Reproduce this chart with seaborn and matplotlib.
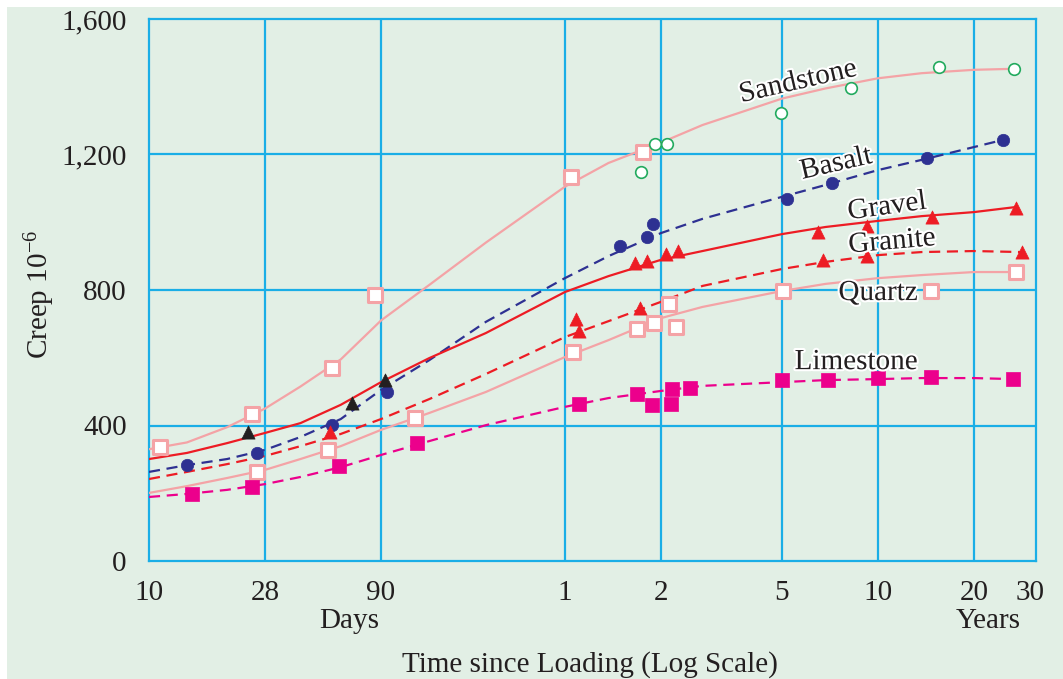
import numpy as np
import matplotlib
matplotlib.use("Agg")
import matplotlib.pyplot as plt
import matplotlib.patheffects as pe
from matplotlib.patches import Rectangle
import seaborn as sns

# ---------------- data: creep strain (x 10^-6) against time since loading (days) ----------------
CURVE_DAYS = [10, 14, 20, 28, 40, 60, 90, 130, 200, 365, 500, 730, 1000, 1826, 2500, 3652, 5000, 7305]

sandstone_curve_days = CURVE_DAYS + [9750]
sandstone_curve = [330, 350, 395, 450, 515, 595, 710, 815, 940, 1105, 1175, 1235, 1287, 1365, 1395, 1425, 1440, 1450, 1453]
basalt_curve_days = CURVE_DAYS + [9000]
basalt_curve = [263, 283, 301, 328, 366, 419, 505, 593, 706, 835, 900, 968, 1010, 1075, 1110, 1154, 1184, 1222, 1243]
gravel_curve_days = CURVE_DAYS + [9890]
gravel_curve = [301, 319, 348, 378, 407, 461, 528, 599, 673, 794, 841, 889, 915, 965, 986, 1004, 1018, 1030, 1045]
granite_curve_days = CURVE_DAYS + [10330]
granite_curve = [242, 263, 286, 310, 339, 375, 419, 478, 552, 661, 708, 765, 812, 862, 883, 903, 912, 915, 912]
quartz_curve_days = CURVE_DAYS + [9890]
quartz_curve = [201, 221, 245, 269, 301, 339, 387, 437, 499, 602, 652, 717, 750, 797, 818, 835, 844, 853, 853]
limestone_curve_days = CURVE_DAYS + [9680]
limestone_curve = [189, 198, 210, 227, 248, 277, 313, 354, 401, 455, 481, 502, 517, 528, 534, 537, 540, 540, 537]

# measured points
sandstone_sq_days = [11, 25, 55, 85, 381, 641]
sandstone_sq = [337, 434, 570, 785, 1134, 1207]
sandstone_circ_days = [631, 699, 764, 1811, 3004, 5673, 9752]
sandstone_circ = [1148, 1231, 1231, 1322, 1396, 1458, 1452]
basalt_days = [14, 26, 55, 94, 545, 660, 690, 1900, 2620, 5200, 9000]
basalt_pts = [283, 319, 401, 499, 930, 956, 995, 1069, 1116, 1190, 1243]
gravel_early_days = [24, 67, 93]
gravel_early = [381, 467, 535]
gravel_days = [605, 660, 758, 830, 2369, 3373, 5390, 9893]
gravel_pts = [880, 886, 906, 915, 971, 989, 1016, 1042]
granite_days = [54, 395, 404, 628, 2455, 3373, 10330]
granite_pts = [381, 714, 679, 747, 889, 900, 912]
quartz_days = [26, 53, 117, 387, 614, 694, 776, 818, 1839, 5354, 9893]
quartz_pts = [263, 328, 422, 617, 685, 703, 759, 691, 797, 797, 853]
limestone_days = [14.6, 25, 59, 118, 404, 614, 684, 793, 788, 909, 1826, 2545, 3652, 5354, 9680]
limestone_pts = [198, 218, 280, 348, 463, 493, 460, 508, 463, 511, 534, 534, 540, 543, 537]

# axis labelling
x_tick_days = [10, 28, 90, 365.25, 730.5, 1826.25, 3652.5, 7305, 10957.5]
x_tick_labels = ["10", "28", "90", "1", "2", "5", "10", "20", "30"]
x_grid_days = [28, 90, 365.25, 730.5, 1826.25, 3652.5, 7305]
y_ticks = [0, 400, 800, 1200, 1600]
y_tick_labels = ["0", "400", "800", "1,200", "1,600"]
y_grid = [400, 800, 1200]

# ---------------- styling ----------------
sns.set_style("white")
plt.rcParams["font.family"] = ["Liberation Serif", "DejaVu Serif"]
plt.rcParams["mathtext.fontset"] = "custom"
plt.rcParams["mathtext.rm"] = "Liberation Serif"
plt.rcParams["mathtext.it"] = "Liberation Serif:italic"

BG = "#e2efe5"
GRID = "#1aaee6"
PINK = "#f4a3a6"
NAVY = "#2e3192"
RED = "#ed1c24"
MAGENTA = "#ec008c"
GREEN = "#22aa5e"
INK = "#231f20"
DASH = (0, (5, 3))

# time axis: logarithmic within each stretch between the marked times
_ANCHOR_DAYS = np.log10([10, 28, 90, 365.25, 730.5, 1826.25, 3652.5, 7305])
_ANCHOR_POS = np.array([0, 116, 232, 416, 512, 633, 729, 825], float)
_s0 = (_ANCHOR_POS[1] - _ANCHOR_POS[0]) / (_ANCHOR_DAYS[1] - _ANCHOR_DAYS[0])
_s1 = (_ANCHOR_POS[-1] - _ANCHOR_POS[-2]) / (_ANCHOR_DAYS[-1] - _ANCHOR_DAYS[-2])


def _fwd(d):
    ld = np.log10(np.clip(np.asarray(d, float), 1e-6, None))
    out = np.interp(ld, _ANCHOR_DAYS, _ANCHOR_POS)
    out = np.where(ld < _ANCHOR_DAYS[0], _ANCHOR_POS[0] + (ld - _ANCHOR_DAYS[0]) * _s0, out)
    out = np.where(ld > _ANCHOR_DAYS[-1], _ANCHOR_POS[-1] + (ld - _ANCHOR_DAYS[-1]) * _s1, out)
    return out


def _inv(p):
    p = np.asarray(p, float)
    ld = np.interp(p, _ANCHOR_POS, _ANCHOR_DAYS)
    ld = np.where(p < _ANCHOR_POS[0], _ANCHOR_DAYS[0] + (p - _ANCHOR_POS[0]) / _s0, ld)
    ld = np.where(p > _ANCHOR_POS[-1], _ANCHOR_DAYS[-1] + (p - _ANCHOR_POS[-1]) / _s1, ld)
    return 10 ** ld


fig = plt.figure(figsize=(10.63, 6.79), dpi=100, facecolor="white")
fig.patches.append(Rectangle((7 / 1063, 0), 1, 1 - 7 / 679, transform=fig.transFigure,
                             facecolor=BG, edgecolor="none", zorder=-1))
ax = fig.add_axes([149 / 1063, 1 - 561 / 679, 887 / 1063, 542 / 679])
ax.set_facecolor("none")

# fitted curves
curves = [
    (sandstone_curve_days, sandstone_curve, PINK, "-"),
    (basalt_curve_days, basalt_curve, NAVY, DASH),
    (gravel_curve_days, gravel_curve, RED, "-"),
    (granite_curve_days, granite_curve, RED, DASH),
    (quartz_curve_days, quartz_curve, PINK, "-"),
    (limestone_curve_days, limestone_curve, MAGENTA, DASH),
]
for xd, yd, col, ls in curves:
    sns.lineplot(x=xd, y=yd, ax=ax, color=col, linewidth=1.6, linestyle=ls,
                 sort=False, estimator=None, zorder=3)

# measured points
open_sq = dict(marker="s", s=95, color="white", edgecolor=PINK, linewidth=2.2, zorder=5)
sns.scatterplot(x=sandstone_sq_days, y=sandstone_sq, ax=ax, **open_sq)
sns.scatterplot(x=quartz_days, y=quartz_pts, ax=ax, **open_sq)
sns.scatterplot(x=sandstone_circ_days, y=sandstone_circ, ax=ax, marker="o", s=70,
                color="white", edgecolor=GREEN, linewidth=1.2, zorder=5)
sns.scatterplot(x=basalt_days, y=basalt_pts, ax=ax, marker="o", s=80, color=NAVY,
                edgecolor=NAVY, linewidth=0.5, zorder=5)
sns.scatterplot(x=gravel_early_days, y=gravel_early, ax=ax, marker="^", s=90, color=INK,
                edgecolor=INK, linewidth=0.5, zorder=5)
sns.scatterplot(x=gravel_days, y=gravel_pts, ax=ax, marker="^", s=90, color=RED,
                edgecolor=RED, linewidth=0.5, zorder=5)
sns.scatterplot(x=granite_days, y=granite_pts, ax=ax, marker="^", s=90, color=RED,
                edgecolor=RED, linewidth=0.5, zorder=5)
sns.scatterplot(x=limestone_days, y=limestone_pts, ax=ax, marker="s", s=110, color=MAGENTA,
                edgecolor=MAGENTA, linewidth=0.5, zorder=5)

ax.set_xscale("function", functions=(_fwd, _inv))
ax.set_xlim(10, float(_inv(887)))
ax.set_ylim(0, 1600)

ax.grid(False)
for d in x_grid_days:
    ax.axvline(d, color=GRID, linewidth=1.6, zorder=1)
for v in y_grid:
    ax.axhline(v, color=GRID, linewidth=1.6, zorder=1)
for sp in ax.spines.values():
    sp.set_color(GRID)
    sp.set_linewidth(1.6)
    sp.set_visible(True)

ax.set_xticks(x_tick_days)
ax.set_xticklabels(x_tick_labels)
ax.set_yticks(y_ticks)
ax.set_yticklabels(y_tick_labels)
ax.xaxis.set_minor_locator(matplotlib.ticker.NullLocator())
ax.tick_params(axis="both", length=0, labelsize=21, colors=INK)
ax.tick_params(axis="x", pad=14)
ax.tick_params(axis="y", pad=16)
ax.set_xlabel("")
ax.set_ylabel("")

# curve names
halo = [pe.withStroke(linewidth=3, foreground="white")]
names = [
    ("Sandstone", 2050, 1414, 13),
    ("Basalt", 2700, 1172, 13),
    ("Gravel", 3900, 1045, 8),
    ("Granite", 4040, 942, 5),
    ("Quartz", 3652, 791, 0),
    ("Limestone", 3115, 587, 0),
]
for txt, xd, yv, rot in names:
    ax.text(xd, yv, txt, fontsize=21, color=INK, ha="center", va="center",
            rotation=rot, rotation_mode="anchor", path_effects=halo, zorder=6)

# axis titles
fig.text(349 / 1063, 1 - 628 / 679, "Days", fontsize=21, color=INK, ha="center", va="baseline")
fig.text(988 / 1063, 1 - 628 / 679, "Years", fontsize=21, color=INK, ha="center", va="baseline")
fig.text(590 / 1063, 1 - 672 / 679, "Time since Loading (Log Scale)", fontsize=21, color=INK,
         ha="center", va="baseline")
fig.text(40 / 1063, 1 - 294 / 679, r"Creep 10$^{-6}$", fontsize=21, color=INK,
         ha="center", va="center", rotation=90)

fig.savefig("out.png", dpi=100, facecolor="white")
